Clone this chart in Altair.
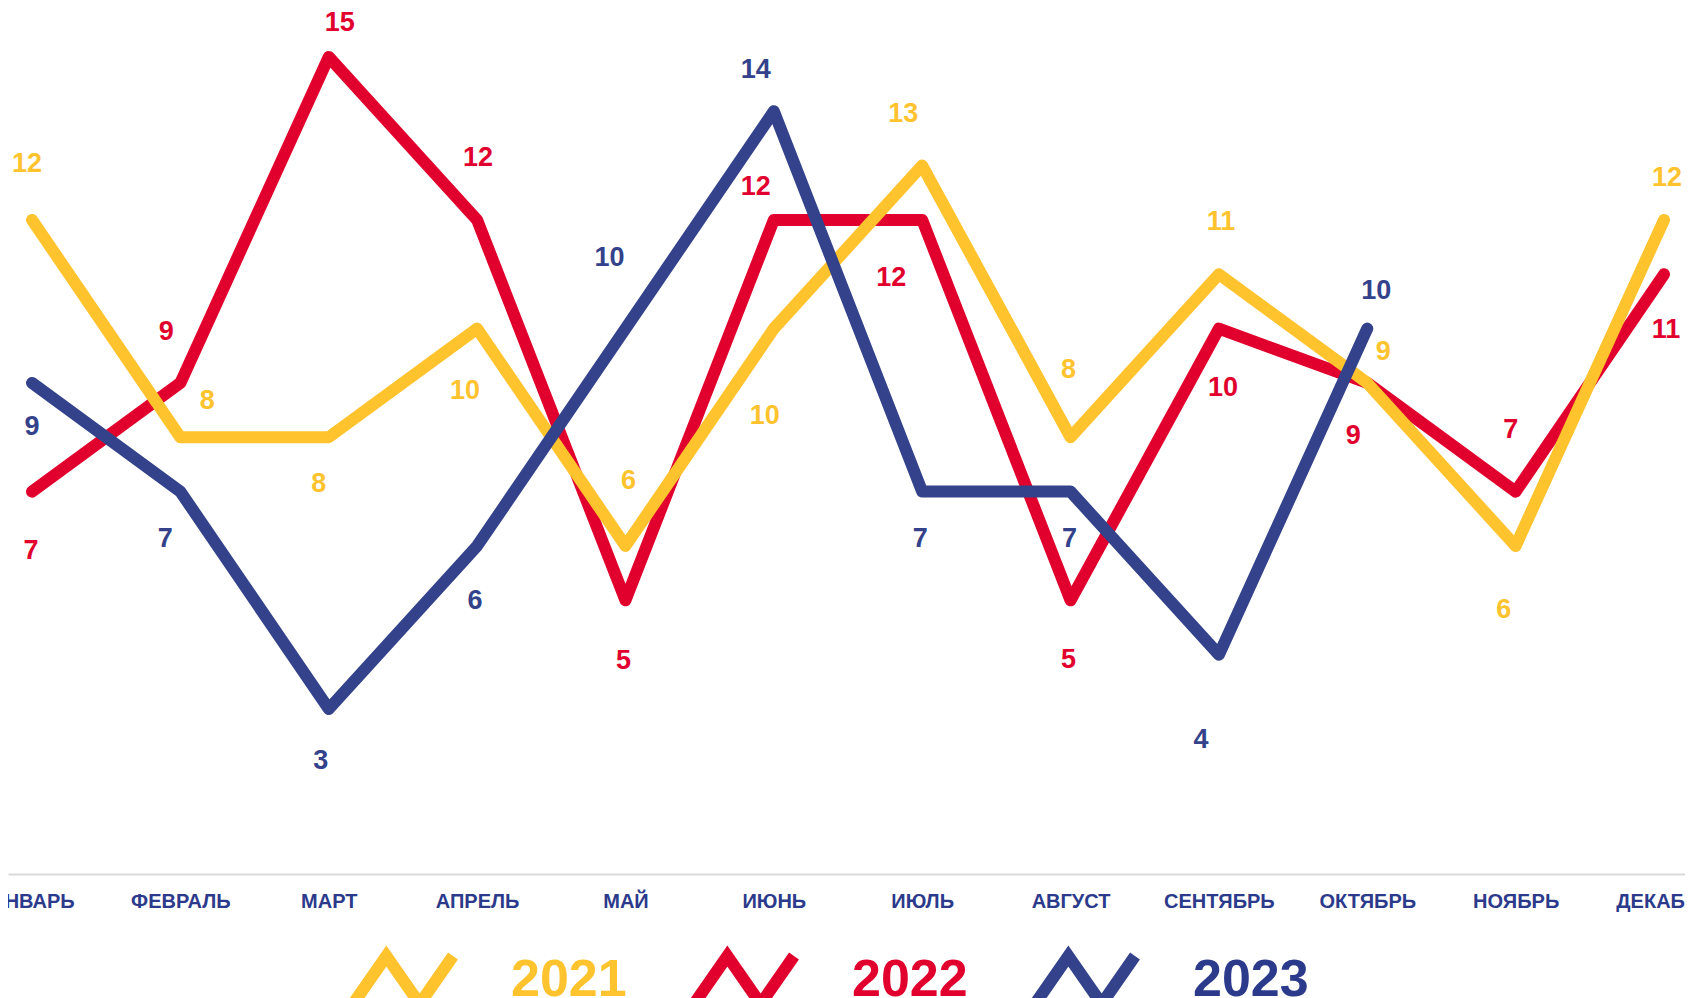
import altair as alt
import pandas as pd

months = ["ЯНВАРЬ", "ФЕВРАЛЬ", "МАРТ", "АПРЕЛЬ", "МАЙ", "ИЮНЬ",
          "ИЮЛЬ", "АВГУСТ", "СЕНТЯБРЬ", "ОКТЯБРЬ", "НОЯБРЬ", "ДЕКАБРЬ"]
years = ["2021", "2022", "2023"]
v2021 = [12, 8, 8, 10, 6, 10, 13, 8, 11, 9, 6, 12]
v2022 = [7, 9, 15, 12, 5, 12, 12, 5, 10, 9, 7, 11]
v2023 = [9, 7, 3, 6, 10, 14, 7, 7, 4, 10, None, None]

colors = ["#FFC32E", "#E1002D", "#33428A"]
color_of = dict(zip(years, colors))

# value-label offsets in pixels (placement only)
dx2021 = [-5, 27, -10, -12, 3, -9, -19, -2, 2, 16, -12, 3]
dy2021 = [-58, -38, 45, 60, -67, 85, -54, -69, -54, -33, 62, -44]
dx2022 = [-1, -14, 11, 1, -2, -18, -31, -2, 4, -14, -5, 2]
dy2022 = [57, -53, -36, -64, 59, -35, 56, 58, 57, 51, -64, 54]
dx2023 = [0, -15, -8, -2, -16, -18, -2, -1, -18, 9, 0, 0]
dy2023 = [42, 45, 50, 53, -73, -43, 45, 45, 83, -40, 0, 0]
LABEL_SHIFT = 2

W, H = 1677, 864
X0, X1 = -0.1618, 11.1415
YMAX = 15.9
STEP = W / (X1 - X0)      # pixels per month
UNIT = H / YMAX           # pixels per value unit

rows = []
for yr, vals, dxs, dys in [("2021", v2021, dx2021, dy2021),
                           ("2022", v2022, dx2022, dy2022),
                           ("2023", v2023, dx2023, dy2023)]:
    for i, (v, dx, dy) in enumerate(zip(vals, dxs, dys)):
        rows.append({
            "idx": i, "month": months[i], "year": yr, "value": v,
            "lx": i + dx / STEP,
            "ly": None if v is None else v - (dy + LABEL_SHIFT) / UNIT,
        })
df = pd.DataFrame(rows)

month_arr = "[" + ",".join("'" + m + "'" for m in months) + "]"

x_scale = alt.Scale(domain=[X0, X1], nice=False, zero=False)
y_scale = alt.Scale(domain=[0, YMAX], nice=False, zero=True)

x_axis = alt.Axis(title=None, ticks=False, tickSize=0, grid=False,
                  values=list(range(len(months))),
                  labelExpr=month_arr + "[datum.value]",
                  domainColor="#DADADA", domainWidth=2, offset=2,
                  labelFont="Liberation Sans", labelFontWeight="bold",
                  labelFontSize=20, labelColor="#2C3A8C",
                  labelPadding=17, labelAngle=0, labelOverlap=False,
                  labelFlush=False)

legend = alt.Legend(
    title=None, orient="none", legendX=339, legendY=916,
    direction="horizontal",
    symbolType="M-1,0.48L-0.333,-0.48L0.333,0.48L1,-0.48",
    symbolSize=10000, symbolStrokeWidth=12, symbolFillColor="transparent",
    labelFont="Liberation Sans", labelFontWeight="bold", labelFontSize=52,
    labelOffset=52, columnPadding=43, labelLimit=400,
    labelColor={"expr": "datum.label === '2021' ? '#FFC32E' : (datum.label === '2022' ? '#E1002D' : '#2C3A8C')"},
)

stroke_enc = alt.Stroke("year:N", scale=alt.Scale(domain=years, range=colors), legend=legend)

base = alt.Chart(df)

def line_layer(yr):
    return base.transform_filter(alt.datum.year == yr).mark_line(
        strokeWidth=12, strokeCap="round", strokeJoin="round"
    ).encode(x=alt.X("idx:Q", scale=x_scale, axis=x_axis),
             y=alt.Y("value:Q", scale=y_scale, axis=None),
             stroke=stroke_enc)

def text_layer(yr):
    return base.transform_filter(alt.datum.year == yr).transform_filter(
        "isValid(datum.value)"
    ).mark_text(
        font="Liberation Sans", fontWeight="bold", fontSize=27,
        baseline="middle", align="center", color=color_of[yr]
    ).encode(
        x=alt.X("lx:Q", scale=x_scale, axis=x_axis),
        y=alt.Y("ly:Q", scale=y_scale, axis=None),
        text=alt.Text("value:Q", format="d"),
    )

chart = alt.layer(
    line_layer("2022"), line_layer("2021"), line_layer("2023"),
    text_layer("2021"), text_layer("2022"), text_layer("2023"),
).properties(
    width=W, height=H,
    autosize=alt.AutoSizeParams(type="none"),
    padding={"left": 0, "top": 0, "right": 0, "bottom": 200},
).configure(background="white").configure_view(stroke=None, strokeWidth=0)

chart.save("out.html", embed_options={"renderer": "svg", "actions": False})
